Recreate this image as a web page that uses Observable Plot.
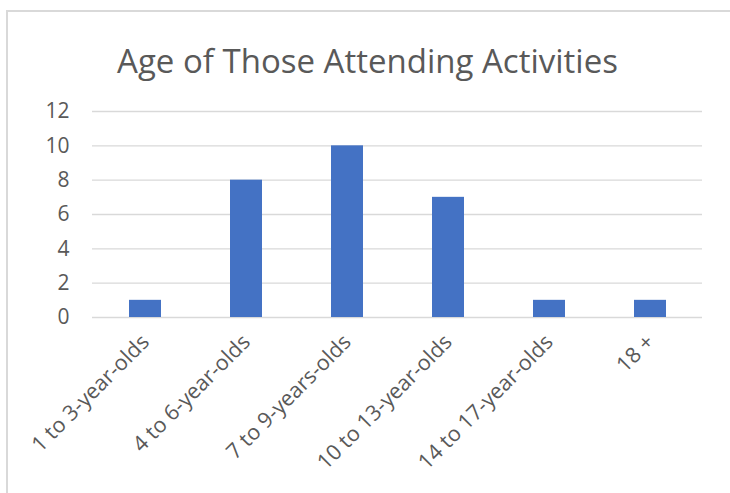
<!DOCTYPE html>
<html>
<head>
<meta charset="utf-8">
<script src="https://cdn.jsdelivr.net/npm/d3@7"></script>
<script src="https://cdn.jsdelivr.net/npm/@observablehq/plot@0.6"></script>
<style>
  html, body { margin: 0; padding: 0; background: #fff; }
  #wrap { position: relative; width: 730px; height: 493px; overflow: hidden; }
  #border { position: absolute; left: 6px; top: 10px; width: 760px; height: 520px; border: 2px solid #d9d9d9; box-sizing: border-box; }
  #chart { position: absolute; left: 0; top: 0; }
</style>
</head>
<body>
<div id="wrap">
  <div id="border"></div>
  <div id="chart"></div>
</div>
<script>
const title = "Age of Those Attending Activities";
const categories = ["1 to 3-year-olds", "4 to 6-year-olds", "7 to 9-years-olds", "10 to 13-year-olds", "14 to 17-year-olds", "18 +"];
const counts = [1, 8, 10, 7, 1, 1];
const yTicks = [0, 2, 4, 6, 8, 10, 12];

const data = categories.map((c, i) => ({category: c, count: counts[i]}));
const font = "'Open Sans', sans-serif";

const chart = Plot.plot({
  width: 730,
  height: 493,
  marginLeft: 92,
  marginRight: 28,
  marginTop: 111,
  marginBottom: 176,
  style: {fontFamily: font, background: "transparent", color: "#595959"},
  x: {domain: categories, paddingInner: 0.685, paddingOuter: 0.3425, label: null},
  y: {domain: [0, 12], label: null},
  marks: [
    Plot.ruleY(yTicks, {stroke: "#d9d9d9", strokeWidth: 1.3}),
    Plot.barY(data, {x: "category", y: "count", fill: "#4472c4"}),
    Plot.axisY({ticks: yTicks, tickSize: 0, tickPadding: 23, fontSize: 21, label: null, fill: "#595959"}),
    Plot.axisX({tickSize: 0, tickPadding: 21, tickRotate: -45, fontSize: 21.5, label: null, fill: "#595959"}),
    Plot.text([title], {frameAnchor: "top", dx: -30, dy: -49, text: d => d, fontSize: 33, fill: "#595959", lineAnchor: "middle"})
  ]
});
document.getElementById("chart").appendChild(chart);
</script>
</body>
</html>
